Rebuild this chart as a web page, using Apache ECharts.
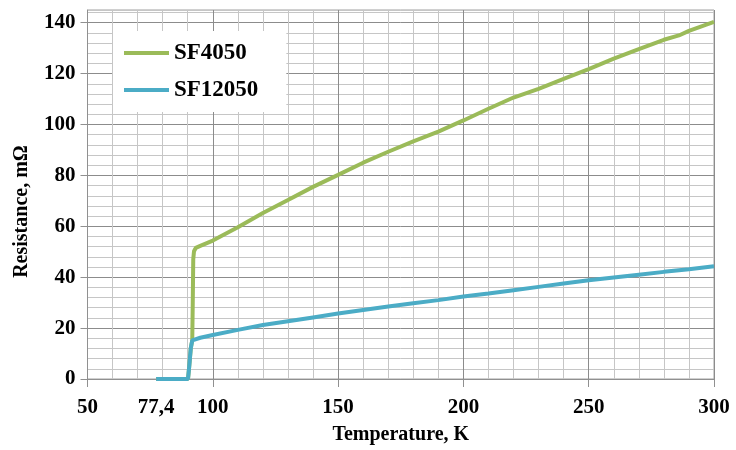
<!DOCTYPE html>
<html>
<head>
<meta charset="utf-8">
<script src="https://cdn.jsdelivr.net/npm/echarts@6/dist/echarts.min.js"></script>
<style>html,body{margin:0;padding:0;background:#fff;}#c{width:736px;height:450px;}</style>
</head>
<body>
<div id="c"></div>
<script>
var seriesNames = ['SF4050', 'SF12050'];
var xLabelValues = [50, 77.4, 100, 150, 200, 250, 300];
var yLabelValues = [0, 20, 40, 60, 80, 100, 120, 140];
var sf4050 = [[77.4,0],[90.1,0],[90.6,5],[91.2,12],[91.8,15.2],[92.0,30],[92.2,47],[92.5,50.2],[93.2,51.5],[95,52.3],[100,54.4],[110,59.6],[120,65.2],[130,70.3],[140,75.5],[150,80.2],[160,85.0],[170,89.3],[180,93.4],[190,97.2],[200,101.6],[210,106.2],[220,110.6],[230,114.0],[240,117.9],[250,121.8],[260,125.9],[270,129.6],[280,133.3],[286,135.0],[290,136.8],[295,138.6],[300,140.3]];
var sf12050 = [[77.4,0],[90.1,0],[90.6,5],[91.2,12],[91.8,15.2],[95,16.2],[100,17.3],[110,19.3],[120,21.2],[130,22.7],[140,24.2],[150,25.7],[160,27.1],[170,28.5],[180,29.8],[190,31.0],[200,32.4],[210,33.6],[220,34.9],[230,36.2],[240,37.5],[250,38.8],[260,39.9],[270,41.0],[280,42.1],[290,43.1],[300,44.3]];

var font = 'Liberation Serif';
var dark = '#8c8c8c', light = '#c6c6c6', none = 'rgba(0,0,0,0)';
var txt = {fontFamily: font, fontWeight: 'bold', fontSize: 21, color: '#000'};
var chart = echarts.init(document.getElementById('c'));
chart.setOption({
  animation: false,
  grid: {left: 87.5, right: 22, top: 10, bottom: 69, show: true, borderColor: '#a0a0a0', borderWidth: 1},
  legend: {
    orient: 'vertical', left: 113, top: 31,
    backgroundColor: '#fff',
    padding: [9, 28, 9, 11],
    itemGap: 11, itemWidth: 45, itemHeight: 4,
    icon: 'rect',
    textStyle: {fontFamily: font, fontWeight: 'bold', fontSize: 23, color: '#000', lineHeight: 26},
    data: seriesNames
  },
  xAxis: [{
    type: 'value', min: 50, max: 300, interval: 50,
    name: 'Temperature, K', nameLocation: 'middle', nameGap: 46,
    nameTextStyle: {fontFamily: font, fontWeight: 'bold', fontSize: 20, color: '#000'},
    axisLine: {show: true, lineStyle: {color: '#909090'}},
    axisTick: {show: true, length: 8, lineStyle: {color: '#909090'}},
    axisLabel: Object.assign({customValues: xLabelValues, margin: 18,
      formatter: function (v) { return String(v).replace('.', ','); }}, txt),
    splitLine: {show: true, lineStyle: {color: dark, width: 1}}
  }, {
    type: 'value', min: 50, max: 300, interval: 10, position: 'bottom',
    axisLine: {show: false}, axisTick: {show: false}, axisLabel: {show: false},
    splitLine: {show: true, lineStyle: {color: [none, light, light, light, light], width: 1}}
  }],
  yAxis: [{
    type: 'value', min: 0, max: 145, interval: 20,
    name: 'Resistance, mΩ', nameLocation: 'middle', nameGap: 56,
    nameTextStyle: {fontFamily: font, fontWeight: 'bold', fontSize: 20, color: '#000', padding: [0, 34, 0, 0]},
    axisLine: {show: true, lineStyle: {color: '#909090'}},
    axisTick: {show: true, customValues: yLabelValues, length: 7, lineStyle: {color: '#909090'}},
    axisLabel: Object.assign({customValues: yLabelValues, margin: 12}, txt),
    splitLine: {show: true, lineStyle: {color: dark, width: 1}}
  }, {
    type: 'value', min: 0, max: 145, interval: 4, position: 'left',
    axisLine: {show: false}, axisTick: {show: false}, axisLabel: {show: false},
    splitLine: {show: true, lineStyle: {color: [none, light, light, light, light], width: 1}}
  }],
  series: [
    {name: seriesNames[0], type: 'line', data: sf4050, showSymbol: false,
     lineStyle: {color: '#9bbb59', width: 4}, itemStyle: {color: '#9bbb59'}},
    {name: seriesNames[1], type: 'line', data: sf12050, showSymbol: false,
     lineStyle: {color: '#4bacc6', width: 4}, itemStyle: {color: '#4bacc6'}}
  ]
});
</script>
</body>
</html>
